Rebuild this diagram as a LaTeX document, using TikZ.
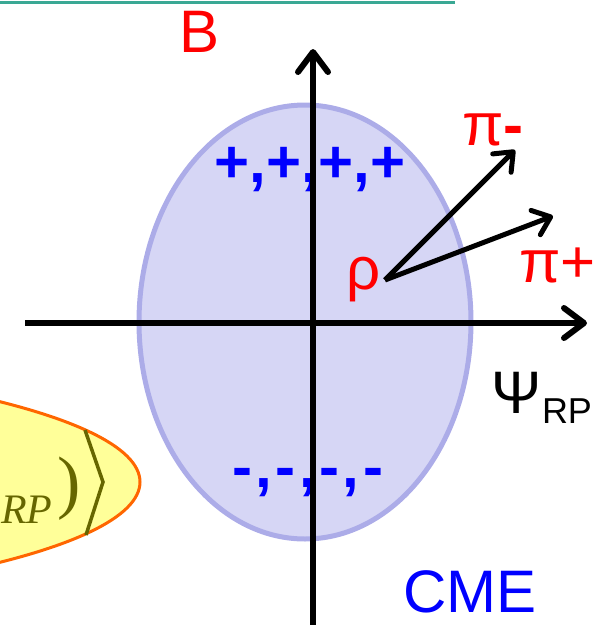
\documentclass[tikz,border=0pt]{standalone}
\usepackage{fontspec}
\setmainfont{Liberation Sans}
\newfontfamily\timesf{Liberation Serif}
\usetikzlibrary{arrows.meta}
\definecolor{topline}{HTML}{3AA894}
\definecolor{ellfill}{HTML}{D6D6F5}
\definecolor{elldraw}{HTML}{ACACE8}
\definecolor{yelfill}{HTML}{FFFF99}
\definecolor{yeldraw}{HTML}{FF6600}
\definecolor{olive}{HTML}{666600}
\tikzset{
  lbl/.style={inner sep=0pt, outer sep=0pt, anchor=base west, font=\fontsize{60}{60}\selectfont},
  axis/.style={line width=6pt, -{Straight Barb[length=20pt,width=30pt,round]}},
  vec/.style={line width=5pt, -{Straight Barb[length=16pt,width=26pt,round]}},
}
\begin{document}
\begin{tikzpicture}[x=1pt,y=-1pt]
\useasboundingbox (0,0) rectangle (609,625);
\clip (0,0) rectangle (609,625);
% top rule
\draw[topline, line width=3pt] (0,2) -- (455,2);
% yellow ellipse (partial)
\draw[yeldraw, fill=yelfill, line width=3pt] (-493,482) ellipse [x radius=633, y radius=128];
\node[inner sep=0pt, anchor=base west, text=olive, font=\timesf\itshape\fontsize{42}{42}\selectfont] (rp) at (1,523) {RP};
\node[inner sep=0pt, anchor=base west, text=olive, font=\timesf\fontsize{70}{70}\selectfont] (paren) at (57,505) {)};
\coordinate (bt) at (85,430);
\coordinate (bm) at (103,482);
\coordinate (bb) at (86,535);
\draw[olive, line width=3.5pt] (bt) -- (bm) -- (bb);
% lavender ellipse
\draw[elldraw, fill=ellfill, line width=5pt] (305,322) ellipse [x radius=166, y radius=217];
% charges
\node[lbl, anchor=base, text=blue, font=\bfseries\fontsize{60}{60}\selectfont] (plus) at (310,182) {+,+,+,+};
\node[lbl, anchor=base, text=blue, font=\bfseries\fontsize{60}{60}\selectfont] (minus) at (307.5,487) {-\kern3.5pt,\kern3.5pt-\kern3.5pt,\kern3.5pt-\kern3.5pt,\kern3.5pt-};
% axes
\coordinate (xl) at (25,323);
\coordinate (xr) at (587,323);
\coordinate (yb) at (313,640);
\coordinate (yt) at (313,49);
\draw[axis] (xl) -- (xr);
\draw[axis] (yb) -- (yt);
% labels
\node[lbl, text=red] (B) at (179,52) {B};
\node[lbl] (psi) at (491,413) {Ψ};
\node[lbl, font=\fontsize{36}{36}\selectfont] (rpsub) at (542,423) {RP};
\node[lbl, text=blue] (cme) at (403,612) {CME};
\node[lbl, text=red] (rho) at (346,289) {ρ};
\node[lbl, text=red] (pim) at (462,145) {π\textbf{-}};
\node[lbl, text=red] (pip) at (519,282) {π+};
% momentum vectors
\coordinate (rhoS) at (385,280);
\coordinate (pimT) at (515,150);
\coordinate (pipT) at (553,216);
\draw[vec] (rhoS) -- (pimT);
\draw[vec] (rhoS) -- (pipT);
\end{tikzpicture}
\end{document}
